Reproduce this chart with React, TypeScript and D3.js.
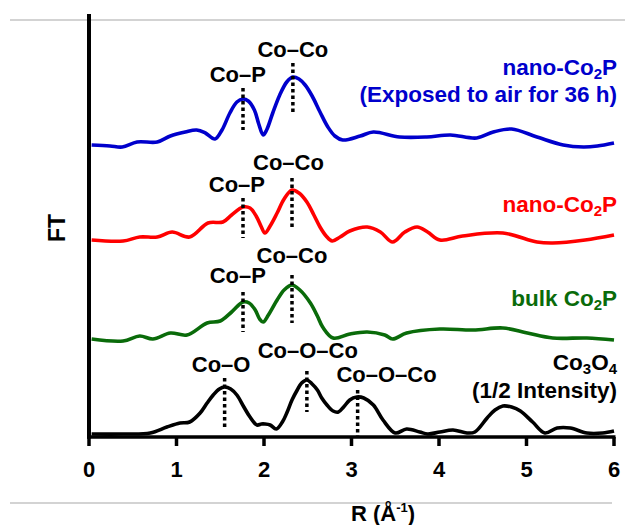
import React from "react";
import * as d3 from "d3";

// R (Å-1) and FT values (arbitrary units, already offset)
const rBlue = [0.03, 0.24, 0.38, 0.55, 0.78, 0.93, 1.1, 1.23, 1.33, 1.44, 1.52, 1.61, 1.69, 1.76, 1.82, 1.89, 1.94, 1.99, 2.03, 2.1, 2.18, 2.26, 2.33, 2.4, 2.47, 2.55, 2.64, 2.73, 2.81, 2.9, 3.1, 3.25, 3.55, 3.86, 4.13, 4.43, 4.62, 4.83, 5.12, 5.42, 5.65, 5.81, 6.0];
const ftBlue = [2.92, 2.91, 2.9, 2.95, 2.95, 3.01, 3.05, 3.07, 3.04, 2.98, 3.07, 3.24, 3.35, 3.38, 3.36, 3.27, 3.13, 3.02, 3.07, 3.24, 3.42, 3.55, 3.6, 3.58, 3.52, 3.41, 3.25, 3.1, 3.01, 2.97, 3.01, 3.05, 3.0, 3.0, 3.02, 2.99, 3.05, 3.08, 3.0, 2.92, 2.9, 2.91, 2.94];

const rRed = [0.03, 0.39, 0.58, 0.78, 0.95, 1.15, 1.36, 1.53, 1.63, 1.76, 1.84, 1.91, 1.97, 2.01, 2.07, 2.15, 2.23, 2.32, 2.4, 2.49, 2.57, 2.64, 2.71, 2.78, 2.87, 2.98, 3.18, 3.33, 3.47, 3.61, 3.75, 3.87, 4.01, 4.27, 4.73, 5.12, 5.3, 5.67, 6.0];
const ftRed = [1.97, 1.96, 2.0, 2.0, 2.05, 2.0, 2.14, 2.15, 2.22, 2.3, 2.29, 2.21, 2.1, 2.04, 2.11, 2.24, 2.38, 2.47, 2.44, 2.35, 2.22, 2.1, 2.01, 1.96, 2.0, 2.06, 2.1, 2.05, 1.95, 2.05, 2.1, 2.05, 1.97, 2.01, 2.04, 1.95, 1.94, 1.97, 2.02];

const rGreen = [0.03, 0.39, 0.58, 0.73, 0.93, 1.12, 1.35, 1.5, 1.63, 1.76, 1.83, 1.9, 1.95, 1.99, 2.05, 2.15, 2.23, 2.32, 2.41, 2.53, 2.61, 2.67, 2.79, 2.98, 3.18, 3.38, 3.47, 3.63, 4.01, 4.39, 4.73, 5.01, 5.3, 5.69, 6.0];
const ftGreen = [0.98, 0.96, 1.01, 0.98, 1.04, 1.02, 1.14, 1.16, 1.25, 1.35, 1.34, 1.27, 1.18, 1.15, 1.22, 1.37, 1.47, 1.52, 1.47, 1.34, 1.21, 1.1, 0.99, 1.03, 1.05, 1.02, 0.98, 1.04, 1.08, 1.07, 1.09, 1.04, 0.99, 0.99, 0.97];

const rBlack = [0.03, 0.39, 0.7, 0.89, 1.04, 1.15, 1.27, 1.35, 1.42, 1.49, 1.55, 1.62, 1.69, 1.77, 1.84, 1.92, 1.97, 2.01, 2.07, 2.14, 2.21, 2.26, 2.32, 2.38, 2.43, 2.49, 2.55, 2.61, 2.66, 2.72, 2.79, 2.85, 2.91, 2.98, 3.06, 3.14, 3.25, 3.36, 3.5, 3.63, 3.78, 3.87, 4.01, 4.16, 4.32, 4.41, 4.55, 4.64, 4.73, 4.83, 4.93, 5.07, 5.21, 5.35, 5.5, 5.69, 5.87, 6.0];
const ftBlack = [0.03, 0.03, 0.04, 0.1, 0.14, 0.15, 0.24, 0.34, 0.42, 0.48, 0.5, 0.48, 0.42, 0.3, 0.2, 0.12, 0.13, 0.13, 0.12, 0.08, 0.15, 0.24, 0.37, 0.47, 0.54, 0.57, 0.53, 0.47, 0.39, 0.32, 0.26, 0.25, 0.3, 0.37, 0.4, 0.39, 0.32, 0.17, 0.04, 0.08, 0.05, 0.03, 0.05, 0.07, 0.04, 0.05, 0.19, 0.27, 0.31, 0.3, 0.26, 0.15, 0.04, 0.09, 0.09, 0.04, 0.04, 0.06];

const xTicks = [0, 1, 2, 3, 4, 5, 6];

// dotted markers: [R, FT top, FT bottom]
const markers = [
  [1.76, 3.49, 3.07], [2.33, 3.74, 3.24],
  [1.76, 2.39, 1.99], [2.32, 2.59, 2.09],
  [1.76, 1.45, 1.05], [2.32, 1.62, 1.14],
  [1.55, 0.59, 0.1], [2.49, 0.66, 0.25], [3.07, 0.47, 0.0],
];

// bond labels: [text, R, FT]
const bondLabels: [string, number, number][] = [
  ["Co–P", 1.7, 3.55], ["Co–Co", 2.33, 3.8],
  ["Co–P", 1.69, 2.45], ["Co–Co", 2.28, 2.67],
  ["Co–P", 1.7, 1.54], ["Co–Co", 2.32, 1.74],
  ["Co–O", 1.51, 0.65], ["Co–O–Co", 2.5, 0.79], ["Co–O–Co", 3.4, 0.55],
];

const W = 625, H = 525;
const left = 89, right = 614, top = 14, bottom = 437;

const FONT = "'Liberation Sans', Arial, sans-serif";

export default function App() {
  const x = d3.scaleLinear().domain([0, 6]).range([left, right]);
  const y = d3.scaleLinear().domain([0, 4.23]).range([bottom, top]);
  const line = d3
    .line<[number, number]>()
    .x((d) => x(d[0]))
    .y((d) => y(d[1]))
    .curve(d3.curveCatmullRom.alpha(0.5));

  const series = [
    { r: rBlue, ft: ftBlue, color: "#0000cc" },
    { r: rRed, ft: ftRed, color: "#ff0000" },
    { r: rGreen, ft: ftGreen, color: "#0a6b0a" },
    { r: rBlack, ft: ftBlack, color: "#000000" },
  ];

  const sub = (t: string) => (
    <tspan fontSize="15" dy="4">{t}</tspan>
  );

  return (
    <svg
      width={W}
      height={H}
      style={{ position: "absolute", left: 0, top: 0, background: "#fff" }}
      fontFamily={FONT}
      fontWeight="bold"
    >
      {/* page rules */}
      <line x1={10} x2={625} y1={20} y2={20} stroke="#c4c4c4" strokeWidth={1.5} />
      <line x1={10} x2={612} y1={503} y2={503} stroke="#c4c4c4" strokeWidth={1.5} />

      {series.map((s, i) => (
        <path
          key={i}
          d={line(s.r.map((r, j) => [r, s.ft[j]]) as [number, number][]) || ""}
          fill="none"
          stroke={s.color}
          strokeWidth={3.6}
          strokeLinejoin="round"
        />
      ))}

      {markers.map((m, i) => (
        <line
          key={i}
          x1={x(m[0])}
          x2={x(m[0])}
          y1={y(m[1])}
          y2={y(m[2])}
          stroke="#000"
          strokeWidth={3.5}
          strokeDasharray="3.5,3"
        />
      ))}

      {bondLabels.map((b, i) => (
        <text key={i} x={x(b[1])} y={y(b[2])} textAnchor="middle" fontSize="22">
          {b[0]}
        </text>
      ))}

      {/* series labels */}
      <g textAnchor="end" fontSize="22.5">
        <text x={617} y={75} fill="#0000cc">nano-Co{sub("2")}<tspan dy="-4">P</tspan></text>
        <text x={617} y={102} fill="#0000cc">(Exposed to air for 36 h)</text>
        <text x={617} y={212} fill="#ff0000">nano-Co{sub("2")}<tspan dy="-4">P</tspan></text>
        <text x={617} y={306} fill="#0a6b0a">bulk Co{sub("2")}<tspan dy="-4">P</tspan></text>
        <text x={617} y={370} fill="#000">Co{sub("3")}<tspan dy="-4">O</tspan>{sub("4")}</text>
        <text x={617} y={398} fill="#000">(1/2 Intensity)</text>
      </g>

      {/* axes */}
      <line x1={left} x2={left} y1={top} y2={bottom + 1.5} stroke="#000" strokeWidth={4} />
      <line x1={left - 2} x2={right + 1.5} y1={bottom} y2={bottom} stroke="#000" strokeWidth={3.5} />
      {xTicks.map((t) => (
        <g key={t}>
          <line x1={x(t)} x2={x(t)} y1={bottom} y2={bottom + 9} stroke="#000" strokeWidth={3.5} />
          <text x={x(t)} y={bottom + 40} textAnchor="middle" fontSize="22">
            {t}
          </text>
        </g>
      ))}

      <text
        transform={`translate(${65},${228}) rotate(-90)`}
        textAnchor="middle"
        fontSize="23"
      >
        FT
      </text>

      <text x={383} y={521} textAnchor="middle" fontSize="22">
        R (Å<tspan fontSize="13" dy="-9">-1</tspan><tspan dy="9">)</tspan>
      </text>
    </svg>
  );
}
